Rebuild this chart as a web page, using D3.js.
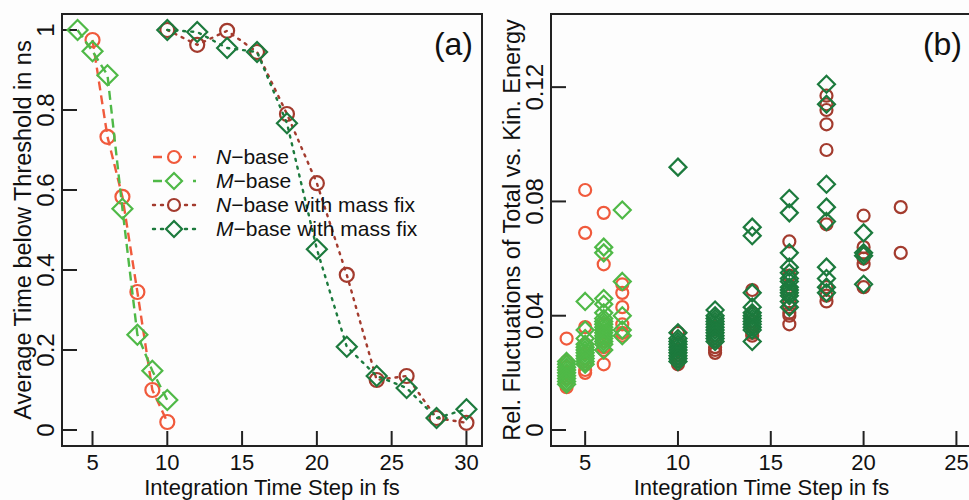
<!DOCTYPE html>
<html>
<head>
<meta charset="utf-8">
<script src="https://cdnjs.cloudflare.com/ajax/libs/d3/7.8.5/d3.min.js"></script>
<style>
body { margin: 0; background: #fdfdfd; }
svg text { font-family: "Liberation Sans", Arial, sans-serif; fill: #111; }
</style>
</head>
<body>
<svg id="chart" width="969" height="500"></svg>
<script>
'use strict';

// panel (a): average time below threshold
var nBaseSteps = [5, 6, 7, 8, 9, 10]
var nBaseTime = [0.975, 0.733, 0.583, 0.345, 0.10, 0.02]
var mBaseSteps = [4, 5, 6, 7, 8, 9, 10]
var mBaseTime = [1.0, 0.947, 0.887, 0.553, 0.238, 0.148, 0.075]
var fixSteps = [10, 12, 14, 16, 18, 20, 22, 24, 26, 28, 30]
var nFixTime = [1.0, 0.963, 0.998, 0.945, 0.79, 0.617, 0.388, 0.125, 0.135, 0.03, 0.018]
var mFixTime = [1.0, 0.995, 0.955, 0.945, 0.767, 0.452, 0.208, 0.135, 0.105, 0.03, 0.052]

// panel (b): relative fluctuations, [step, value]
var nBaseFluct = [
    [4, 0.032], [4, 0.024], [4, 0.022], [4, 0.020], [4, 0.018], [4, 0.016], [4, 0.015],
    [5, 0.084], [5, 0.069], [5, 0.036], [5, 0.030], [5, 0.027], [5, 0.025], [5, 0.023], [5, 0.021], [5, 0.020],
    [6, 0.076], [6, 0.058], [6, 0.037], [6, 0.034], [6, 0.031], [6, 0.029], [6, 0.028], [6, 0.023],
    [7, 0.051], [7, 0.048], [7, 0.043], [7, 0.037], [7, 0.034], [7, 0.033]
]
var mBaseFluct = [
    [4, 0.024], [4, 0.023], [4, 0.022], [4, 0.021], [4, 0.020], [4, 0.019], [4, 0.018], [4, 0.017], [4, 0.016],
    [5, 0.045], [5, 0.035], [5, 0.032], [5, 0.030], [5, 0.029], [5, 0.028], [5, 0.027], [5, 0.026], [5, 0.025], [5, 0.024], [5, 0.023],
    [6, 0.064], [6, 0.062], [6, 0.046], [6, 0.044], [6, 0.041], [6, 0.039], [6, 0.038], [6, 0.037], [6, 0.036],
    [6, 0.035], [6, 0.034], [6, 0.033], [6, 0.032], [6, 0.031], [6, 0.030], [6, 0.028],
    [7, 0.077], [7, 0.052], [7, 0.040], [7, 0.035], [7, 0.033]
]
var nFixFluct = [
    [10, 0.034], [10, 0.030], [10, 0.028], [10, 0.026], [10, 0.025], [10, 0.024], [10, 0.023],
    [12, 0.036], [12, 0.033], [12, 0.031], [12, 0.029], [12, 0.028], [12, 0.027],
    [14, 0.049], [14, 0.041], [14, 0.038], [14, 0.036], [14, 0.034], [14, 0.033],
    [16, 0.066], [16, 0.054], [16, 0.050], [16, 0.047], [16, 0.045], [16, 0.043], [16, 0.041], [16, 0.040], [16, 0.037],
    [18, 0.117], [18, 0.114], [18, 0.112], [18, 0.107], [18, 0.098], [18, 0.072], [18, 0.050], [18, 0.047], [18, 0.045],
    [20, 0.075], [20, 0.064], [20, 0.062], [20, 0.060], [20, 0.058], [20, 0.050],
    [22, 0.078], [22, 0.062]
]
var mFixFluct = [
    [10, 0.092], [10, 0.034], [10, 0.032], [10, 0.031], [10, 0.030], [10, 0.029], [10, 0.028], [10, 0.027], [10, 0.026], [10, 0.025], [10, 0.024],
    [12, 0.042], [12, 0.040], [12, 0.039], [12, 0.038], [12, 0.037], [12, 0.036], [12, 0.035], [12, 0.034], [12, 0.033], [12, 0.032], [12, 0.031],
    [14, 0.071], [14, 0.068], [14, 0.048], [14, 0.043], [14, 0.041], [14, 0.040], [14, 0.039], [14, 0.038], [14, 0.037], [14, 0.036], [14, 0.035], [14, 0.031],
    [16, 0.081], [16, 0.076], [16, 0.062], [16, 0.057], [16, 0.055], [16, 0.053], [16, 0.052], [16, 0.050], [16, 0.049], [16, 0.048], [16, 0.047], [16, 0.045], [16, 0.043],
    [18, 0.121], [18, 0.114], [18, 0.086], [18, 0.078], [18, 0.073], [18, 0.057], [18, 0.053], [18, 0.050], [18, 0.048],
    [20, 0.069], [20, 0.062], [20, 0.061], [20, 0.051]
]

var ticksAX = [5, 10, 15, 20, 25, 30]
var ticksAY = [0, 0.2, 0.4, 0.6, 0.8, 1]
var ticksBX = [5, 10, 15, 20, 25]
var ticksBY = [0, 0.04, 0.08, 0.12]

var legendLabels = [
    { pre: 'N', rest: '\u2212base' },
    { pre: 'M', rest: '\u2212base' },
    { pre: 'N', rest: '\u2212base with mass fix' },
    { pre: 'M', rest: '\u2212base with mass fix' }
]

var colNBase = '#f05a3c',
    colMBase = '#4fb947',
    colNFix = '#a33b2e',
    colMFix = '#1c7a3d'
var dashed = '9,5',
    dotted = '2,6'

var svg = d3.select('#chart')

// R style: pad the range by 4% on each side
function pad(lo, hi) {
    var d = (hi - lo) * 0.04
    return [lo - d, hi + d]
}

function diamond(s) {
    return 'M0,' + (-s) + 'L' + s + ',0L0,' + s + 'L' + (-s) + ',0Z'
}

function frame(g, x, y, tx, ty, fmt, title, tag) {
    var x0 = x.range()[0], x1 = x.range()[1]
    var y0 = y.range()[0], y1 = y.range()[1]
    var clipId = 'clip' + tag.replace(/\W/g, '')
    g.append('clipPath').attr('id', clipId).append('rect')
        .attr('x', x0).attr('y', y1).attr('width', x1 - x0).attr('height', y0 - y1)
    g.selectAll('.xt').data(tx).enter().append('line')
        .attr('x1', function(d) { return x(d) }).attr('x2', function(d) { return x(d) })
        .attr('y1', y0).attr('y2', y0 - 15)
        .style('stroke', '#222').style('stroke-width', 2)
    g.selectAll('.xl').data(tx).enter().append('text')
        .attr('x', function(d) { return x(d) }).attr('y', y0 + 23.5)
        .attr('text-anchor', 'middle').style('font-size', '22px')
        .text(function(d) { return d })
    g.selectAll('.yt').data(ty).enter().append('line')
        .attr('x1', x0).attr('x2', x0 + 15)
        .attr('y1', function(d) { return y(d) }).attr('y2', function(d) { return y(d) })
        .style('stroke', '#222').style('stroke-width', 2)
    g.selectAll('.yl').data(ty).enter().append('text')
        .attr('transform', function(d) { return 'translate(' + (x0 - 8) + ',' + y(d) + ') rotate(-90)' })
        .attr('text-anchor', 'middle').style('font-size', '24px')
        .text(fmt)
    g.append('text')
        .attr('x', (x0 + x1) / 2).attr('y', 495)
        .attr('text-anchor', 'middle').style('font-size', '22px')
        .text('Integration Time Step in fs')
    g.append('text')
        .attr('transform', 'translate(' + (x0 - 31) + ',' + ((y0 + y1) / 2) + ') rotate(-90)')
        .attr('text-anchor', 'middle').style('font-size', '23.5px')
        .text(title)
    g.append('text')
        .attr('x', x0 + 411).attr('y', 55)
        .attr('text-anchor', 'end').style('font-size', '32px')
        .text(tag)
    return 'url(#' + clipId + ')'
}

function drawBox(g, x, y) {
    var x0 = x.range()[0], x1 = x.range()[1]
    var y0 = y.range()[0], y1 = y.range()[1]
    g.append('rect')
        .attr('x', x0).attr('y', y1).attr('width', x1 - x0).attr('height', y0 - y1)
        .style('fill', 'none').style('stroke', '#222').style('stroke-width', 2)
}

// ---------- panel (a)
var xA = d3.scaleLinear().domain(pad(4, 30)).range([62, 482])
var yA = d3.scaleLinear().domain(pad(0, 1)).range([446, 14])
var gA = svg.append('g')
var clipA = frame(gA, xA, yA, ticksAX, ticksAY, function(d) { return d3.format('~g')(d) },
    'Average Time below Threshold in ns', '(a)')

var seriesA = [
    { xs: nBaseSteps, ys: nBaseTime, color: colNBase, dash: dashed, shape: 'circle' },
    { xs: mBaseSteps, ys: mBaseTime, color: colMBase, dash: dashed, shape: 'diamond' },
    { xs: fixSteps, ys: nFixTime, color: colNFix, dash: dotted, shape: 'circle' },
    { xs: fixSteps, ys: mFixTime, color: colMFix, dash: dotted, shape: 'diamond' }
]
var lineA = d3.line()
    .x(function(d) { return xA(d[0]) })
    .y(function(d) { return yA(d[1]) })

var plotA = gA.append('g').attr('clip-path', clipA)
seriesA.forEach(function(s) {
    var pts = d3.zip(s.xs, s.ys)
    plotA.append('path').datum(pts)
        .attr('d', lineA)
        .style('fill', 'none').style('stroke', s.color)
        .style('stroke-width', 2.4).style('stroke-dasharray', s.dash)
        .style('stroke-linecap', s.dash == dotted ? 'round' : 'butt')
    var sel = plotA.selectAll(null).data(pts).enter()
    if (s.shape == 'circle') {
        sel.append('circle')
            .attr('cx', function(d) { return xA(d[0]) })
            .attr('cy', function(d) { return yA(d[1]) })
            .attr('r', 7)
            .style('fill', 'none').style('stroke', s.color).style('stroke-width', 2.2)
    } else {
        sel.append('path')
            .attr('d', diamond(10))
            .attr('transform', function(d) { return 'translate(' + xA(d[0]) + ',' + yA(d[1]) + ')' })
            .style('fill', 'none').style('stroke', s.color).style('stroke-width', 2.2)
    }
})

// legend
var legend = gA.append('g').attr('transform', 'translate(153,157)')
legendLabels.forEach(function(l, i) {
    var s = seriesA[i]
    var row = legend.append('g').attr('transform', 'translate(0,' + (i * 24) + ')')
    row.append('line')
        .attr('x1', 0).attr('x2', 43).attr('y1', 0).attr('y2', 0)
        .style('stroke', s.color).style('stroke-width', 2.4)
        .style('stroke-dasharray', s.dash == dashed ? '9,11' : '2,6')
        .style('stroke-linecap', s.dash == dotted ? 'round' : 'butt')
    if (s.shape == 'circle') {
        row.append('circle').attr('cx', 21).attr('cy', 0).attr('r', 6)
            .style('fill', '#fdfdfd').style('stroke', s.color).style('stroke-width', 2.2)
    } else {
        row.append('path').attr('d', diamond(8)).attr('transform', 'translate(21,0)')
            .style('fill', '#fdfdfd').style('stroke', s.color).style('stroke-width', 2.2)
    }
    var t = row.append('text').attr('x', 63).attr('y', 7).style('font-size', '21px')
    t.append('tspan').style('font-style', 'italic').text(l.pre)
    t.append('tspan').text(l.rest)
})

drawBox(gA, xA, yA)

// ---------- panel (b)
var xB = d3.scaleLinear().domain(pad(4, 25)).range([551, 972])
var yB = d3.scaleLinear().domain(pad(0, 0.14)).range([446, 14])
var gB = svg.append('g')
var clipB = frame(gB, xB, yB, ticksBX, ticksBY, function(d) { return d3.format('~g')(d) },
    'Rel. Fluctuations of Total vs. Kin. Energy', '(b)')

var seriesB = [
    { pts: nBaseFluct, color: colNBase, shape: 'circle' },
    { pts: mBaseFluct, color: colMBase, shape: 'diamond' },
    { pts: nFixFluct, color: colNFix, shape: 'circle' },
    { pts: mFixFluct, color: colMFix, shape: 'diamond' }
]
var plotB = gB.append('g').attr('clip-path', clipB)
seriesB.forEach(function(s) {
    var sel = plotB.selectAll(null).data(s.pts).enter()
    if (s.shape == 'circle') {
        sel.append('circle')
            .attr('cx', function(d) { return xB(d[0]) })
            .attr('cy', function(d) { return yB(d[1]) })
            .attr('r', 6)
            .style('fill', 'none').style('stroke', s.color).style('stroke-width', 2.2)
    } else {
        sel.append('path')
            .attr('d', diamond(8.5))
            .attr('transform', function(d) { return 'translate(' + xB(d[0]) + ',' + yB(d[1]) + ')' })
            .style('fill', 'none').style('stroke', s.color).style('stroke-width', 2.2)
    }
})
drawBox(gB, xB, yB)
</script>
</body>
</html>
